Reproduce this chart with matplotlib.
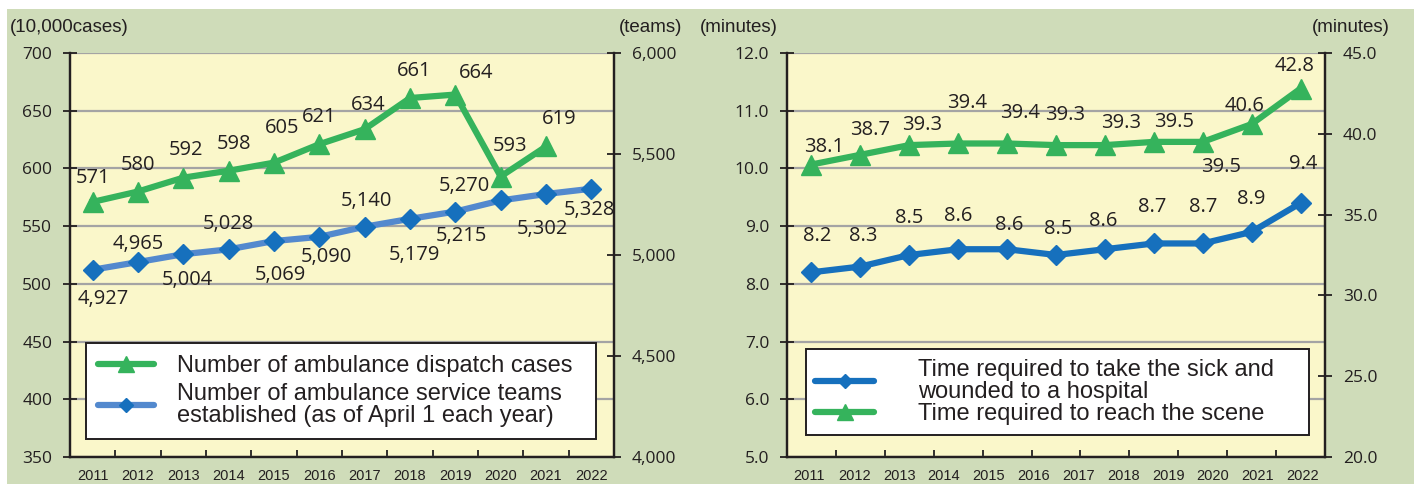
import matplotlib
matplotlib.use("Agg")
import matplotlib.pyplot as plt
from matplotlib.lines import Line2D
from matplotlib.patches import Rectangle
import numpy as np

# data
years = ["2011", "2012", "2013", "2014", "2015", "2016",
         "2017", "2018", "2019", "2020", "2021", "2022"]
dispatch_cases = [571, 580, 592, 598, 605, 621, 634, 661, 664, 593, 619]
service_teams = [4927, 4965, 5004, 5028, 5069, 5090, 5140, 5179, 5215, 5270, 5302, 5328]
time_hospital = [8.2, 8.3, 8.5, 8.6, 8.6, 8.5, 8.6, 8.7, 8.7, 8.9, 9.4]
time_scene = [38.1, 38.7, 39.3, 39.4, 39.4, 39.3, 39.3, 39.5, 39.5, 40.6, 42.8]

# label offsets in pixels (dx, dy down) as placed in the reference
cases_off = [(0, -24), (0, -27), (3, -28), (5, -27), (8, -35), (0, -27),
             (4, -24), (4, -27), (21, -22), (9, -31), (13, -27)]
teams_off = [(11, 29), (0, -18), (4, 26), (0, -25), (6, 34), (7, 20),
             (2, -26), (4, 36), (6, 24), (-36, -14), (-4, 35), (-2, 21)]
scene_off = [(13, -18), (10, -25), (13, -20), (9, -40), (13, -30), (9, -30),
             (16, -22), (20, -20), (18, 25), (-7, -18), (-6, -23)]
hosp_off = [(6, -36), (3, -31), (0, -37), (0, -33), (2, -24), (2, -26),
            (-2, -28), (-2, -36), (0, -36), (0, -33), (3, -39)]

W, H = 1414, 484
GREEN = "#35B35C"
BLUE = "#1670BD"
BLUE_LINE = "#5389CE"
PANEL = "#CFDCB9"
PLOT_BG = "#FAF7CA"
GRID = "#A4A4A4"
INK = "#231F20"

LABEL_FONT = "Open Sans"
SANS = "Liberation Sans"

fig = plt.figure(figsize=(W / 100, H / 100), dpi=100)
fig.patch.set_facecolor("white")
fig.add_artist(Rectangle((7 / W, 0), 1, 1 - 9 / H, transform=fig.transFigure,
                         facecolor=PANEL, edgecolor="none", zorder=-10))


def style_axes(ax, axr, ncat):
    ax.set_facecolor(PLOT_BG)
    ax.set_xlim(-0.5, ncat - 0.5)
    for a in (ax, axr):
        a.spines["top"].set_visible(False)
        for s in ("left", "right", "bottom"):
            a.spines[s].set_color(INK)
            a.spines[s].set_linewidth(1.6)
    ax.set_xticks(np.arange(ncat - 1) + 0.5, minor=True)
    ax.tick_params(axis="x", which="minor", direction="in", length=5, width=1.3, color=INK)
    ax.yaxis.grid(True, color=GRID, lw=1.6)
    ax.set_axisbelow(True)
    ax.tick_params(axis="y", direction="inout", length=9.5, width=1.3, color=INK,
                   pad=8, labelsize=12.5, labelcolor=INK)
    axr.tick_params(axis="y", direction="inout", length=9.5, width=1.3, color=INK,
                    pad=8, labelsize=12.5, labelcolor=INK)
    for t in ax.get_yticklabels() + axr.get_yticklabels():
        t.set_fontfamily(LABEL_FONT)


def put_labels(ax, xs, ys, texts, offs):
    for x, y, s, (dx, dy) in zip(xs, ys, texts, offs):
        ax.annotate(s, (x, y), xytext=(dx, -dy), textcoords="offset pixels",
                    ha="center", va="center", fontsize=14.5, color=INK,
                    family=LABEL_FONT, zorder=6)


def legend_box(handles, labels, anchor, **kw):
    leg = fig.legend(handles, labels, loc="upper left", bbox_to_anchor=anchor,
                     mode="expand", numpoints=1, borderaxespad=0, markerscale=0.75,
                     prop={"family": SANS, "size": 17}, fancybox=False,
                     framealpha=1, edgecolor=INK, facecolor="white", **kw)
    leg.get_frame().set_linewidth(1.4)
    for t in leg.get_texts():
        t.set_color(INK)
        t.set_linespacing(1.02)
    return leg


# ---------- left panel ----------
ax1 = fig.add_axes([70 / W, 27 / H, 544 / W, 404 / H])
ax1r = ax1.twinx()
ax1.set_ylim(350, 700)
ax1.set_yticks(np.arange(350, 701, 50))
ax1r.set_ylim(4000, 6000)
ax1r.set_yticks(np.arange(4000, 6001, 500))
ax1r.set_yticklabels([f"{v:,}" for v in range(4000, 6001, 500)])
style_axes(ax1, ax1r, len(years))
ax1.set_xticks(range(len(years)), years)
ax1.tick_params(axis="x", which="major", length=0, pad=9, labelsize=10.5, labelcolor=INK)
for t in ax1.get_xticklabels():
    t.set_fontfamily(SANS)

x_cases = np.arange(len(dispatch_cases))
x_teams = np.arange(len(service_teams))
ax1.plot(x_cases, dispatch_cases, color=GREEN, lw=4.5, marker="^", ms=15,
         mec=GREEN, zorder=4)
ax1r.plot(x_teams, service_teams, color=BLUE_LINE, lw=4.5, marker="D", ms=10,
          mfc=BLUE, mec=BLUE, zorder=4)
put_labels(ax1, x_cases, dispatch_cases, [str(v) for v in dispatch_cases], cases_off)
put_labels(ax1r, x_teams, service_teams, [f"{v:,}" for v in service_teams], teams_off)

fig.text(10 / W, 1 - 28 / H, "(10,000cases)", ha="left", va="center",
         fontsize=13.5, family=SANS, color=INK)
fig.text(682 / W, 1 - 28 / H, "(teams)", ha="right", va="center",
         fontsize=13.5, family=SANS, color=INK)

h_cases = Line2D([], [], color=GREEN, lw=4.5, marker="^", ms=15, mec=GREEN,
                 solid_capstyle="round")
h_teams = Line2D([], [], color=BLUE_LINE, lw=4.5, marker="D", ms=10, mfc=BLUE,
                 mec=BLUE, solid_capstyle="round")
legend_box([h_cases, h_teams],
           ["Number of ambulance dispatch cases",
            "Number of ambulance service teams\nestablished (as of April 1 each year)"],
           (86 / W, 1 - 348 / H, 510 / W, 0.01),
           handlelength=2.4, handletextpad=0.95, borderpad=0.5, labelspacing=0.25)

# ---------- right panel ----------
ax2 = fig.add_axes([787 / W, 27 / H, 538 / W, 404 / H])
ax2r = ax2.twinx()
ax2.set_ylim(5.0, 12.0)
ax2.set_yticks(np.arange(5, 13, 1.0))
ax2.set_yticklabels([f"{v:.1f}" for v in np.arange(5, 13, 1.0)])
ax2r.set_ylim(20.0, 45.0)
ax2r.set_yticks(np.arange(20, 46, 5.0))
ax2r.set_yticklabels([f"{v:.1f}" for v in np.arange(20, 46, 5.0)])
style_axes(ax2, ax2r, len(time_hospital))
ax2.set_xticks([])

# year row is spaced over 12 slots, the points over 11
ax2y = ax2.twiny()
ax2y.set_xlim(-0.5, len(years) - 0.5)
ax2y.xaxis.set_ticks_position("bottom")
ax2y.xaxis.set_label_position("bottom")
ax2y.set_xticks(range(len(years)), years)
ax2y.tick_params(axis="x", length=0, pad=9, labelsize=10.5, labelcolor=INK)
for t in ax2y.get_xticklabels():
    t.set_fontfamily(SANS)
for s in ax2y.spines.values():
    s.set_visible(False)
ax2y.patch.set_visible(False)

x_hosp = np.arange(len(time_hospital))
x_scene = np.arange(len(time_scene))
ax2.plot(x_hosp, time_hospital, color=BLUE, lw=4.5, marker="D", ms=10,
         mfc=BLUE, mec=BLUE, zorder=4)
ax2r.plot(x_scene, time_scene, color=GREEN, lw=4.5, marker="^", ms=15,
          mec=GREEN, zorder=4)
put_labels(ax2, x_hosp, time_hospital, [f"{v:.1f}" for v in time_hospital], hosp_off)
put_labels(ax2r, x_scene, time_scene, [f"{v:.1f}" for v in time_scene], scene_off)

fig.text(700 / W, 1 - 28 / H, "(minutes)", ha="left", va="center",
         fontsize=13.5, family=SANS, color=INK)
fig.text(1390 / W, 1 - 28 / H, "(minutes)", ha="right", va="center",
         fontsize=13.5, family=SANS, color=INK)

h_hosp = Line2D([], [], color=BLUE, lw=4.5, marker="D", ms=10, mfc=BLUE, mec=BLUE,
                solid_capstyle="round")
h_scene = Line2D([], [], color=GREEN, lw=4.5, marker="^", ms=15, mec=GREEN,
                 solid_capstyle="round")
legend_box([h_hosp, h_scene],
           ["Time required to take the sick and\nwounded to a hospital",
            "Time required to reach the scene"],
           (806 / W, 1 - 354 / H, 503 / W, 0.01),
           handlelength=2.5, handletextpad=1.85, borderpad=0.4, labelspacing=0.02)

fig.savefig("out.png", dpi=100, facecolor=fig.get_facecolor())
